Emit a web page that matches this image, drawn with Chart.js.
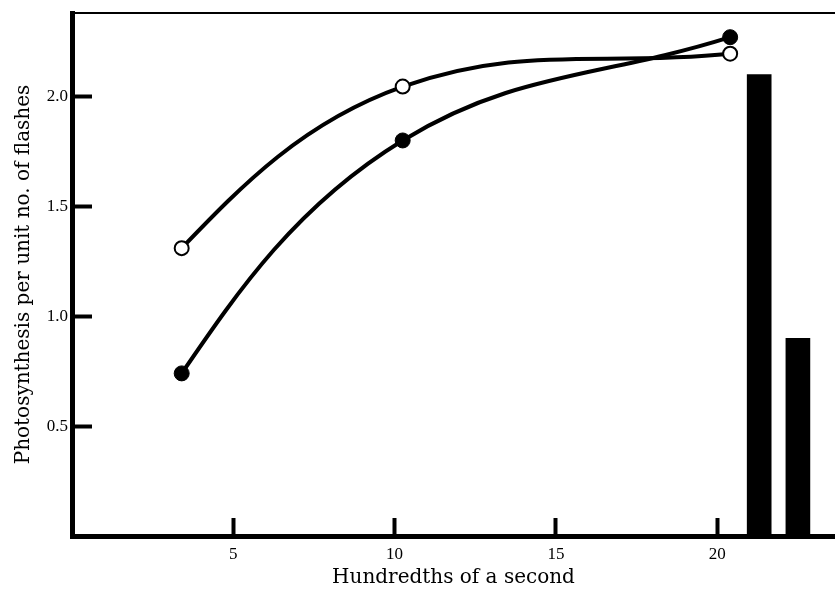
<!DOCTYPE html>
<html>
<head>
<meta charset="utf-8">
<script src="https://cdn.jsdelivr.net/npm/chart.js@4"></script>
<style>
  html, body { margin: 0; padding: 0; background: #fff; }
  #wrap { width: 835px; height: 592px; }
</style>
</head>
<body>
<div id="wrap"><canvas id="flashChart"></canvas></div>
<script>
/* flash duration (hundredths of a second) */
const flashTimes = [3.4, 10.25, 20.4];
const openValues = [1.31, 2.045, 2.195];
const filledValues = [0.74, 1.80, 2.27];

/* the two bars on the right */
const barPositions = [21.3, 22.5];
const barValues = [2.10, 0.90];

const xTicks = [5, 10, 15, 20];
const yTicks = [0.5, 1.0, 1.5, 2.0];

const pts = (xs, ys) => xs.map((x, i) => ({ x: x, y: ys[i] }));

const ink = '#000';
const tickFont = { family: "'Liberation Serif'", size: 17 };
const titleFont = { family: "'DejaVu Serif'", size: 20 };

// thin frame line along the top edge
const topLine = {
  id: 'topLine',
  beforeDatasetsDraw(chart) {
    const { ctx, chartArea: a } = chart;
    ctx.save();
    ctx.strokeStyle = ink;
    ctx.lineWidth = 2;
    ctx.beginPath();
    ctx.moveTo(a.left, a.top);
    ctx.lineTo(a.right, a.top);
    ctx.stroke();
    ctx.restore();
  }
};

// let the curves leave their first point heading toward the next control point,
// so they bow up right away instead of starting along the chord
const steepStart = {
  id: 'steepStart',
  beforeDatasetDraw(chart, args) {
    const meta = args.meta;
    if (meta.type !== 'line' || meta.data.length < 2) return;
    meta.dataset.updateControlPoints(chart.chartArea, 'x');
    const [p0, p1] = meta.data;
    p0.cp2x = p0.x + 0.5 * (p1.cp1x - p0.x);
    p0.cp2y = p0.y + 0.5 * (p1.cp1y - p0.y);
  }
};

new Chart(document.getElementById('flashChart'), {
  type: 'line',
  data: {
    datasets: [
      {
        data: pts(flashTimes, filledValues),
        borderColor: ink,
        borderWidth: 4,
        tension: 0.4,
        pointRadius: 7.5,
        pointBackgroundColor: ink,
        pointBorderColor: ink,
        pointBorderWidth: 1
      },
      {
        data: pts(flashTimes, openValues),
        borderColor: ink,
        borderWidth: 4,
        tension: 0.4,
        pointRadius: 7,
        pointBackgroundColor: '#fff',
        pointBorderColor: ink,
        pointBorderWidth: 2
      },
      {
        type: 'bar',
        data: pts(barPositions, barValues),
        backgroundColor: ink,
        barThickness: 24,
        grouped: false
      }
    ]
  },
  options: {
    responsive: true,
    maintainAspectRatio: false,
    animation: false,
    layout: { autoPadding: false, padding: { top: 13, right: 0, left: 0, bottom: 0 } },
    plugins: { legend: { display: false }, tooltip: { enabled: false } },
    scales: {
      x: {
        type: 'linear',
        min: 0,
        max: 23.65,
        offset: false,
        afterFit: s => { s.height = 56; s.paddingLeft = 0; s.paddingRight = 0; },
        afterBuildTicks: s => { s.ticks = xTicks.map(v => ({ value: v })); },
        border: { display: true, color: ink, width: 5 },
        grid: { offset: false, drawOnChartArea: false, drawTicks: true, tickLength: -18, tickWidth: 4, tickColor: ink },
        ticks: { color: ink, font: tickFont, padding: 26, maxRotation: 0, callback: v => String(v) },
        title: { display: true, text: 'Hundredths of a second', color: ink, font: titleFont, padding: { top: 0, bottom: 2 } }
      },
      y: {
        min: 0,
        max: 2.38,
        afterFit: s => { s.width = 72; s.paddingTop = 0; s.paddingBottom = 0; },
        afterBuildTicks: s => { s.ticks = yTicks.map(v => ({ value: v })); },
        border: { display: true, color: ink, width: 5 },
        grid: { drawOnChartArea: false, drawTicks: true, tickLength: -20, tickWidth: 4, tickColor: ink },
        ticks: { color: ink, font: tickFont, padding: 24, callback: v => v.toFixed(1) },
        title: { display: true, text: 'Photosynthesis per unit no. of flashes', color: ink, font: titleFont, padding: { top: 12, bottom: 0 } }
      }
    }
  },
  plugins: [topLine, steepStart]
});
</script>
</body>
</html>
